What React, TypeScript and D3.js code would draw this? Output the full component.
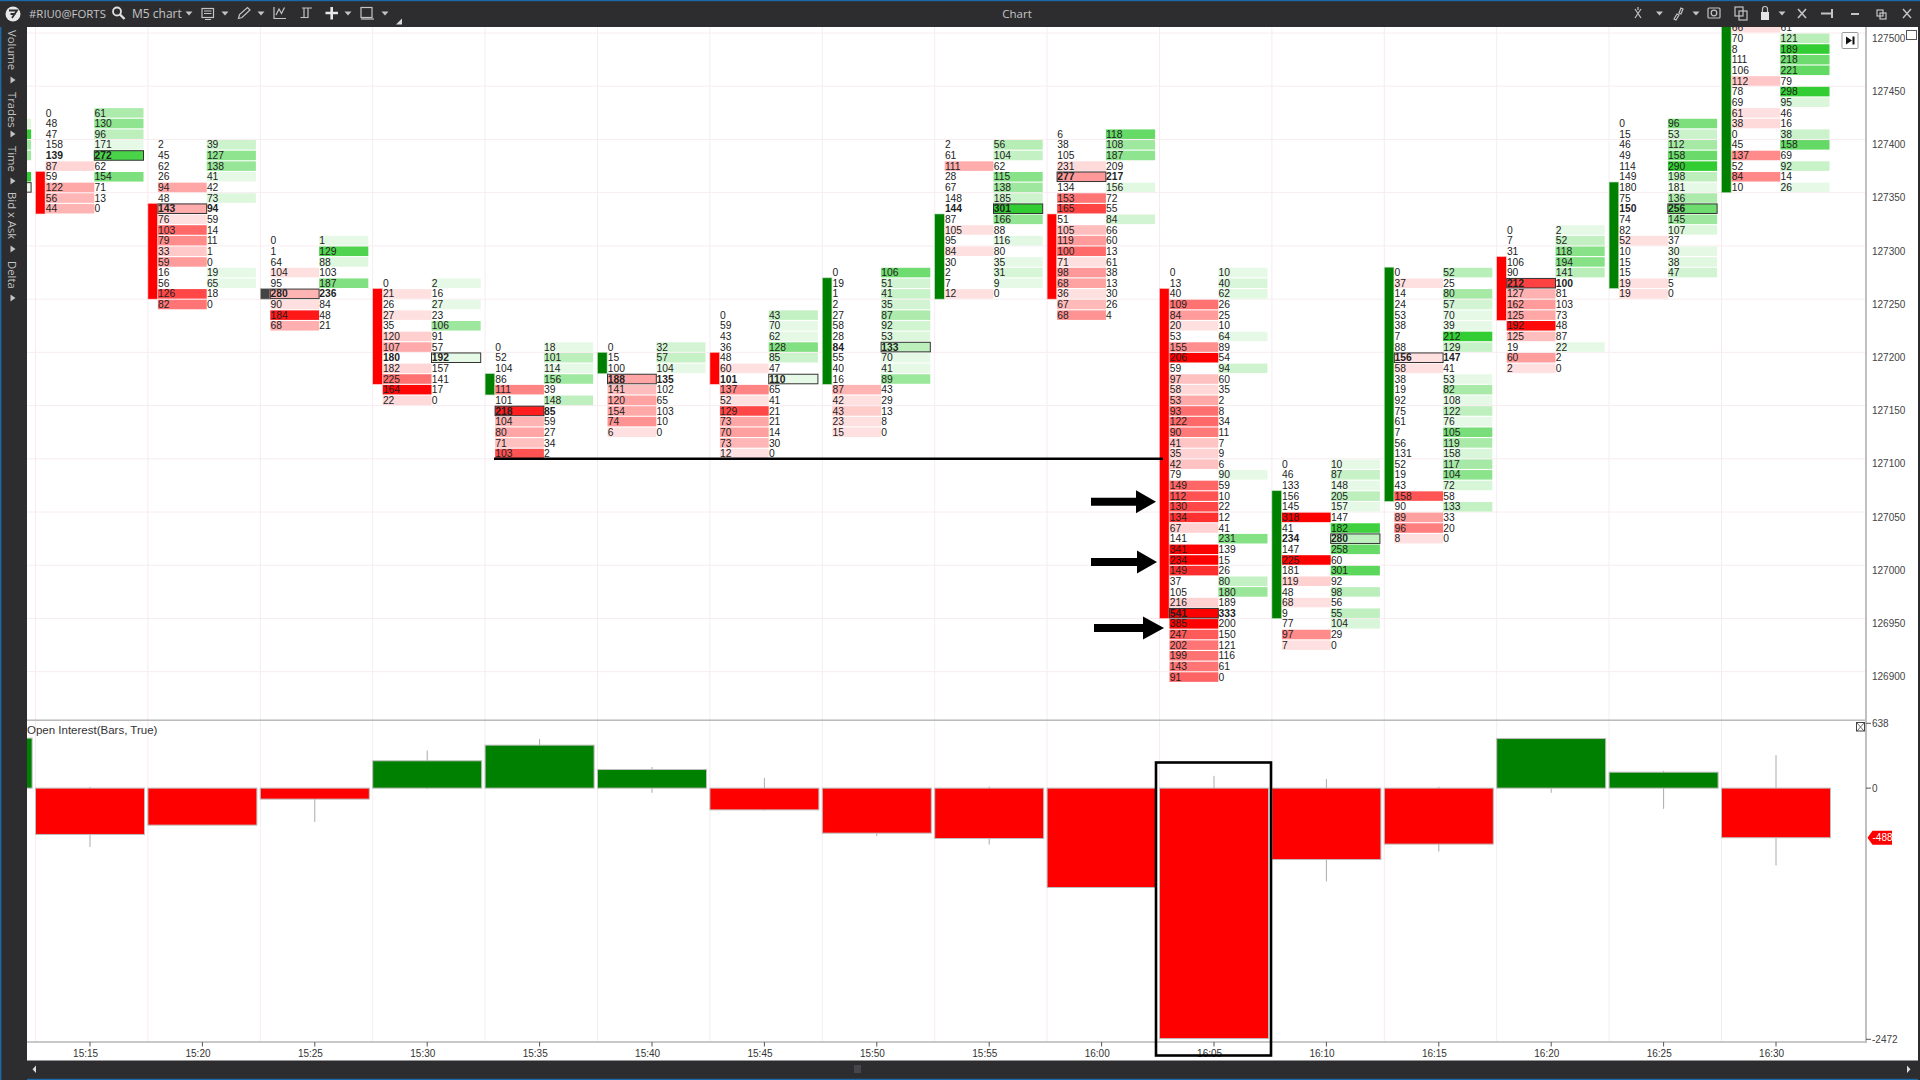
import React from "react";
import * as d3 from "d3";

// ---------- footprint data: index 0 is the partly visible bar before 15:15 (its hidden sides are estimates) ----------
const topPrices = [127420, 127430, 127400, 127310, 127270, 127210, 127210, 127240, 127280, 127400, 127410, 127280, 127100, 127280, 127320, 127420, 127520];
const bodyTop = [127420, 127370, 127340, 127260, 127260, 127180, 127200, 127200, 127270, 127330, 127330, 127260, 127070, 127280, 127290, 127360, 127530];
const bodyBottom = [127360, 127330, 127250, 127250, 127170, 127160, 127180, 127170, 127170, 127250, 127250, 126950, 126950, 127060, 127230, 127260, 127350];
const bodyKind = ["up", "down", "down", "flat", "down", "up", "up", "down", "up", "up", "down", "down", "up", "up", "down", "up", "up"];
const bids: number[][] = [
  [30, 20, 40, 30, 50, 10, 150],
  [0, 48, 47, 158, 139, 87, 59, 122, 56, 44],
  [2, 45, 62, 26, 94, 48, 143, 76, 103, 79, 33, 59, 16, 56, 126, 82],
  [0, 1, 64, 104, 95, 280, 90, 184, 68],
  [0, 21, 26, 27, 35, 120, 107, 180, 182, 225, 164, 22],
  [0, 52, 104, 86, 111, 101, 218, 104, 80, 71, 103],
  [0, 15, 100, 188, 141, 120, 154, 74, 6],
  [0, 59, 43, 36, 48, 60, 101, 137, 52, 129, 73, 70, 73, 12],
  [0, 19, 1, 2, 27, 58, 28, 84, 55, 40, 16, 87, 42, 43, 23, 15],
  [2, 61, 111, 28, 67, 148, 144, 87, 105, 95, 84, 30, 2, 7, 12],
  [6, 38, 105, 231, 277, 134, 153, 165, 51, 105, 119, 100, 71, 98, 68, 36, 67, 68],
  [0, 13, 40, 109, 84, 20, 53, 155, 206, 59, 97, 58, 53, 93, 122, 90, 41, 35, 42, 79, 149, 112, 130, 134, 67, 141, 341, 234, 149, 37, 105, 216, 541, 385, 247, 202, 199, 143, 91],
  [0, 46, 133, 156, 145, 318, 41, 234, 147, 225, 181, 119, 48, 68, 9, 77, 97, 7],
  [0, 37, 14, 24, 53, 38, 7, 88, 156, 58, 38, 19, 92, 75, 61, 7, 56, 131, 52, 19, 43, 158, 90, 89, 96, 8],
  [0, 7, 31, 106, 90, 212, 127, 162, 125, 192, 125, 19, 60, 2],
  [0, 15, 46, 49, 114, 149, 180, 75, 150, 74, 82, 52, 10, 15, 15, 19, 19],
  [200, 66, 70, 8, 111, 106, 112, 78, 69, 61, 38, 0, 45, 137, 52, 84, 10],
];
const asks: number[][] = [
  [55, 190, 110, 100, 40, 170, 160],
  [61, 130, 96, 171, 272, 62, 154, 71, 13, 0],
  [39, 127, 138, 41, 42, 73, 94, 59, 14, 11, 1, 0, 19, 65, 18, 0],
  [1, 129, 88, 103, 187, 236, 84, 48, 21],
  [2, 16, 27, 23, 106, 91, 57, 192, 157, 141, 17, 0],
  [18, 101, 114, 156, 39, 148, 85, 59, 27, 34, 2],
  [32, 57, 104, 135, 102, 65, 103, 10, 0],
  [43, 70, 62, 128, 85, 47, 110, 65, 41, 21, 21, 14, 30, 0],
  [106, 51, 41, 35, 87, 92, 53, 133, 70, 41, 89, 43, 29, 13, 8, 0],
  [56, 104, 62, 115, 138, 185, 301, 166, 88, 116, 80, 35, 31, 9, 0],
  [118, 108, 187, 209, 217, 156, 72, 55, 84, 66, 60, 13, 61, 38, 13, 30, 26, 4],
  [10, 40, 62, 26, 25, 10, 64, 89, 54, 94, 60, 35, 2, 8, 34, 11, 7, 9, 6, 90, 59, 10, 22, 12, 41, 231, 139, 15, 26, 80, 180, 189, 333, 200, 150, 121, 116, 61, 0],
  [10, 87, 148, 205, 157, 147, 182, 280, 258, 60, 301, 92, 98, 56, 55, 104, 29, 0],
  [52, 25, 80, 57, 70, 39, 212, 129, 147, 41, 53, 82, 108, 122, 76, 105, 119, 158, 117, 104, 72, 58, 133, 33, 20, 0],
  [2, 52, 118, 194, 141, 100, 81, 103, 73, 48, 87, 22, 2, 0],
  [96, 53, 112, 158, 290, 198, 181, 136, 256, 145, 107, 37, 30, 38, 47, 5, 0],
  [250, 61, 121, 189, 218, 221, 79, 298, 95, 46, 16, 38, 158, 69, 92, 14, 26],
];
const timeLabels = ["15:15", "15:20", "15:25", "15:30", "15:35", "15:40", "15:45", "15:50", "15:55", "16:00", "16:05", "16:10", "16:15", "16:20", "16:25", "16:30"];
const priceTicks = [127500, 127450, 127400, 127350, 127300, 127250, 127200, 127150, 127100, 127050, 127000, 126950, 126900];
const oiTicks = [638, 0, -2472];
// ---------- open interest: same index as the bars ----------
const oiValue = [492, -456, -364, -108, 269, 423, 183, -214, -443, -496, -978, -2465, -703, -551, 488, 157, -488];
const oiHigh = [492, 13, 0, 0, 370, 482, 207, 101, 0, 16, 0, 121, 89, 13, 488, 170, 325];
const oiLow = [0, -580, -364, -332, -10, 0, -46, -220, -470, -555, -978, -2465, -917, -624, -46, -204, -761];
const oiLast = -488;
const sideTabs = [
  { label: "Volume", y: 30, tri: 80 },
  { label: "Trades", y: 92, tri: 134 },
  { label: "Time", y: 146, tri: 181 },
  { label: "Bid x Ask", y: 192, tri: 249 },
  { label: "Delta", y: 261, tri: 298 },
];

const x = d3.scaleLinear([-1, 15], [-22.4, 1776]);
const yP = d3.scaleLinear([127500, 126900], [33, 671.7]);
const yO = d3.scaleLinear([638, -2472], [723.3, 1039.3]);
const strength = d3.scaleLinear([0, 18, 150], [0.12, 0.12, 1]).clamp(true);
const redAt = d3.interpolateRgb("#ffffff", "#ff0000");
const greenAt = d3.interpolateRgb("#ffffff", "#32cd32");
const BG = "#2d2d30";
const UI = "#c4c4c4";
const CELL = "'Liberation Sans', Arial, sans-serif";
const UIF = "'Open Sans', sans-serif";

const idxs = d3.range(-1, 16);

function Arrow({ x0, xh, xt, yc }: { x0: number; xh: number; xt: number; yc: number }) {
  return <path d={`M${x0},${yc - 4}H${xh}V${yc - 11.5}L${xt},${yc}L${xh},${yc + 11.5}V${yc + 4}H${x0}Z`} fill="#000" />;
}
const Drop = ({ cx }: { cx: number }) => <path d={`M${cx - 3.5},11.5h7l-3.5,4z`} fill={UI} />;

function Toolbar() {
  const s = { fill: "none", stroke: UI, strokeWidth: 1.2 };
  return (
    <g>
      <rect x={0} y={0} width={1920} height={27} fill={BG} />
      <rect x={0} y={0} width={1920} height={1.2} fill="#1a6aa8" />
      <circle cx={13} cy={14} r={7.5} fill="#e8e8e8" />
      <path d="M9,10.5h8l-5,7.5M10.5,14h5" fill="none" stroke={BG} strokeWidth={1.8} />
      <text x={29} y={18} fontFamily={UIF} fontSize={11.4} fill={UI}>#RIU0@FORTS</text>
      <circle cx={117} cy={11.5} r={4} {...s} strokeWidth={1.8} stroke="#e0e0e0" />
      <path d="M120,14.5l4.5,4.5" stroke="#e0e0e0" strokeWidth={2.4} />
      <text x={132} y={18} fontFamily={UIF} fontSize={12} fill={UI}>M5 chart</text>
      <Drop cx={189} />
      <rect x={202} y={8.5} width={11.5} height={9} {...s} />
      <path d="M204,11h7.5M204,13.5h7.5M205,19.5h6" {...s} />
      <Drop cx={225} />
      <path d="M238.5,18.5l1-4l8-7l2.5,2.5l-8,7.5z" {...s} />
      <Drop cx={261} />
      <path d="M274,7v11.5h12M276,15l3-6l2.5,4.5l3-6" {...s} />
      <path d="M302,8h10M304,8v9.5h-3.5M308,8v9.5h-7.5" {...s} />
      <path d="M325.5,13h12.5M331.7,7v12.5" stroke="#e8e8e8" strokeWidth={2.6} />
      <Drop cx={348} />
      <rect x={361} y={7.5} width={11} height={10} {...s} />
      <path d="M361,19h13" {...s} />
      <Drop cx={385} />
      <path d="M396,24.5h6v-6z" fill="#d8d8d8" />
      <text x={1017} y={18} textAnchor="middle" fontFamily={UIF} fontSize={11.5} fill={UI}>Chart</text>
      <path d="M1635,9l6,9M1641,9l-6,9M1638,7v3" {...s} />
      <path d="M1656,11.5h7l-3.5,4z" fill={UI} />
      <path d="M1674,19l3-5l2,1l-3,5zM1679,13l2-5l2,1l-2,5z" {...s} />
      <path d="M1692.5,11.5h7l-3.5,4z" fill={UI} />
      <rect x={1708} y={8} width={12} height={10} rx={1} {...s} />
      <circle cx={1714} cy={13} r={2.8} {...s} />
      <rect x={1735} y={7} width={8} height={9} {...s} />
      <rect x={1739} y={11} width={8} height={9} {...s} />
      <rect x={1761} y={12} width={8} height={8} fill="#e4e4e4" />
      <path d="M1762.5,12v-3a2.5,2.5 0 0 1 5,0v3" {...s} />
      <path d="M1778.5,11.5h7l-3.5,4z" fill={UI} />
      <path d="M1798,18l8-9M1798,9l8,9" {...s} strokeWidth={1.6} />
      <path d="M1821,13.5h11M1832,9v9" {...s} strokeWidth={2} />
      <path d="M1851,14h8" stroke={UI} strokeWidth={2} />
      <rect x={1877} y={10} width={6} height={6} {...s} />
      <rect x={1880} y={13} width={6} height={6} {...s} />
      <path d="M1903,9l8,9M1911,9l-8,9" {...s} strokeWidth={1.4} />
    </g>
  );
}

function SideBar() {
  return (
    <g>
      <rect x={0} y={0} width={27} height={1080} fill={BG} />
      <rect x={0} y={0} width={1.4} height={1080} fill="#1a6aa8" />
      {sideTabs.map((t) => (
        <g key={t.label}>
          <text transform={`translate(7.5,${t.y}) rotate(90)`} fontFamily={UIF} fontSize={11.3} fill={UI}>{t.label}</text>
          <path d={`M10.5,${t.tri - 3.5}l5,3.5l-5,3.5z`} fill={UI} />
        </g>
      ))}
    </g>
  );
}

function Footprint({ k }: { k: number }) {
  const i = idxs[k];
  const c = x(i);
  const b = bids[k];
  const a = asks[k];
  const poc = d3.greatestIndex(d3.range(b.length), (j: number) => b[j] + a[j]);
  const step = yP(127490) - yP(127500);
  const kind = bodyKind[k];
  return (
    <g>
      <rect x={c - 54.5} y={yP(bodyTop[k])} width={9.6} height={yP(bodyBottom[k]) - yP(bodyTop[k])}
        fill={kind === "up" ? "#008000" : kind === "down" ? "#ff0000" : "#444"}
        stroke={kind === "up" ? "#b8dcb8" : kind === "down" ? "#ffc8c8" : "#bbb"} strokeWidth={0.6} />
      {b.map((bv, j) => {
        const av = a[j];
        const top = yP(topPrices[k]) + j * step;
        const d = av - bv;
        const isPoc = j === poc;
        const sell = d < 0;
        const t = strength(Math.abs(d));
        const cell = { y: top + 0.6, height: step - 1.1 };
        const showText = i >= 0 && top + step > 27;
        return (
          <g key={j}>
            {sell && <rect x={c - 44.5} width={48.8} {...cell} fill={redAt(t)} />}
            {!sell && <rect x={c + 4.3} width={49.2} {...cell} fill={greenAt(t)} />}
            {isPoc && (
              <rect x={sell ? c - 44.5 : c + 4.3} width={sell ? 48.8 : 49.2} {...cell} fill="none" stroke="#333" strokeWidth={1} />
            )}
            {showText && <text x={c - 44.3} y={top + 9} fontFamily={CELL} fontSize={10.3} fontWeight={isPoc ? 700 : 400} fill="#222">{bv}</text>}
            {showText && <text x={c + 4.5} y={top + 9} fontFamily={CELL} fontSize={10.3} fontWeight={isPoc ? 700 : 400} fill="#222">{av}</text>}
          </g>
        );
      })}
    </g>
  );
}

export default function App() {
  return (
    <svg width={1920} height={1080} viewBox="0 0 1920 1080" style={{ position: "absolute", left: 0, top: 0, display: "block" }}>
      <defs>
        <clipPath id="plot"><rect x={27} y={27} width={1839} height={693} /></clipPath>
        <clipPath id="oi"><rect x={27} y={720} width={1839} height={322} /></clipPath>
      </defs>
      <rect x={0} y={0} width={1920} height={1080} fill="#fff" />

      {/* grids */}
      {timeLabels.map((_, n) => (
        <line key={n} x1={x(n) - 54.5} x2={x(n) - 54.5} y1={27} y2={1042} stroke="#f6ecf0" strokeWidth={1} />
      ))}
      {priceTicks.map((p) => (
        <line key={p} x1={27} x2={1866} y1={yP(p)} y2={yP(p)} stroke="#f8ecf0" strokeWidth={1} />
      ))}

      {/* footprint */}
      <g clipPath="url(#plot)">
        {idxs.map((_, k) => <Footprint key={k} k={k} />)}
      </g>

      {/* level and arrows */}
      <line x1={494} x2={1163} y1={yP(127100)} y2={yP(127100)} stroke="#000" strokeWidth={2.4} />
      <Arrow x0={1091} xh={1136} xt={1156} yc={501.7} />
      <Arrow x0={1091} xh={1137} xt={1157} yc={562} />
      <Arrow x0={1094} xh={1143} xt={1164} yc={628} />

      {/* end button */}
      <rect x={1842} y={32.5} width={16} height={16} rx={1} fill="#fff" stroke="#999" />
      <path d="M1846,36.5l6,4l-6,4zM1852.5,36.5h2v8h-2z" fill="#111" />
      <rect x={1906.5} y={30.5} width={10} height={9} fill="#fff" stroke="#555" />

      {/* open interest */}
      <rect x={27} y={719.5} width={1839} height={1.4} fill="#b4b4b4" />
      <text x={27} y={734} fontFamily={CELL} fontSize={11.5} fill="#333">Open Interest(Bars, True)</text>
      <g clipPath="url(#oi)">
        {idxs.map((i, k) => (
          <line key={`w${k}`} x1={x(i)} x2={x(i)} y1={yO(oiHigh[k])} y2={yO(oiLow[k])} stroke="#aaa" strokeWidth={1} />
        ))}
        {idxs.map((i, k) => {
          const v = oiValue[k];
          return (
            <rect key={`b${k}`} x={x(i) - 54.5} width={109} y={Math.min(yO(v), yO(0))} height={Math.abs(yO(v) - yO(0))}
              fill={v >= 0 ? "#008000" : "#ff0000"} stroke="#bdbdbd" strokeWidth={1} />
          );
        })}
      </g>
      <rect x={1856.5} y={722.5} width={8} height={8.5} fill="#fff" stroke="#444" />
      <path d="M1857,723l7,8M1864,723l-7,8" stroke="#444" strokeWidth={0.8} />

      {/* time axis */}
      <rect x={27} y={1041} width={1839} height={2} fill="#c8c8c8" />
      {timeLabels.map((t, n) => (
        <g key={t}>
          <line x1={x(n)} x2={x(n)} y1={1042} y2={1046.5} stroke="#555" strokeWidth={1} />
          <text x={x(n) - 4.4} y={1056.8} textAnchor="middle" fontFamily={CELL} fontSize={10} fill="#333">{t}</text>
        </g>
      ))}

      {/* right axis */}
      <rect x={1865} y={27} width={2} height={1016} fill="#c0c0c0" />
      {priceTicks.map((p) => (
        <text key={p} x={1872} y={yP(p) + 8.6} fontFamily={CELL} fontSize={10} fill="#444">{p}</text>
      ))}
      {oiTicks.map((v) => (
        <g key={v}>
          <line x1={1866} x2={1871} y1={yO(v)} y2={yO(v)} stroke="#555" />
          <text x={1872} y={yO(v) + 3.5} fontFamily={CELL} fontSize={10} fill="#444">{v}</text>
        </g>
      ))}
      <path d={`M1867.5,${yO(oiLast)}l5,-7h19.5v14h-19.5z`} fill="#ff0000" />
      <text x={1872.5} y={yO(oiLast) + 3.5} fontFamily={CELL} fontSize={10} fill="#fff">{oiLast}</text>

      {/* highlight frame */}
      <rect x={1156} y={762.5} width={115} height={293} fill="none" stroke="#000" strokeWidth={2.6} />

      {/* window frame */}
      <rect x={27} y={1060.5} width={1893} height={19.5} fill={BG} />
      <rect x={0} y={1078.8} width={1920} height={1.2} fill="#1a6aa8" />
      <rect x={1918} y={0} width={2} height={1080} fill={BG} />
      <path d="M36,1065.5l-3.5,3.8l3.5,3.8z" fill="#ddd" />
      <path d="M1907,1065.5l3.5,3.8l-3.5,3.8z" fill="#ddd" />
      <rect x={854} y={1065} width={7} height={8} fill="#45454a" />
      <SideBar />
      <Toolbar />
    </svg>
  );
}
